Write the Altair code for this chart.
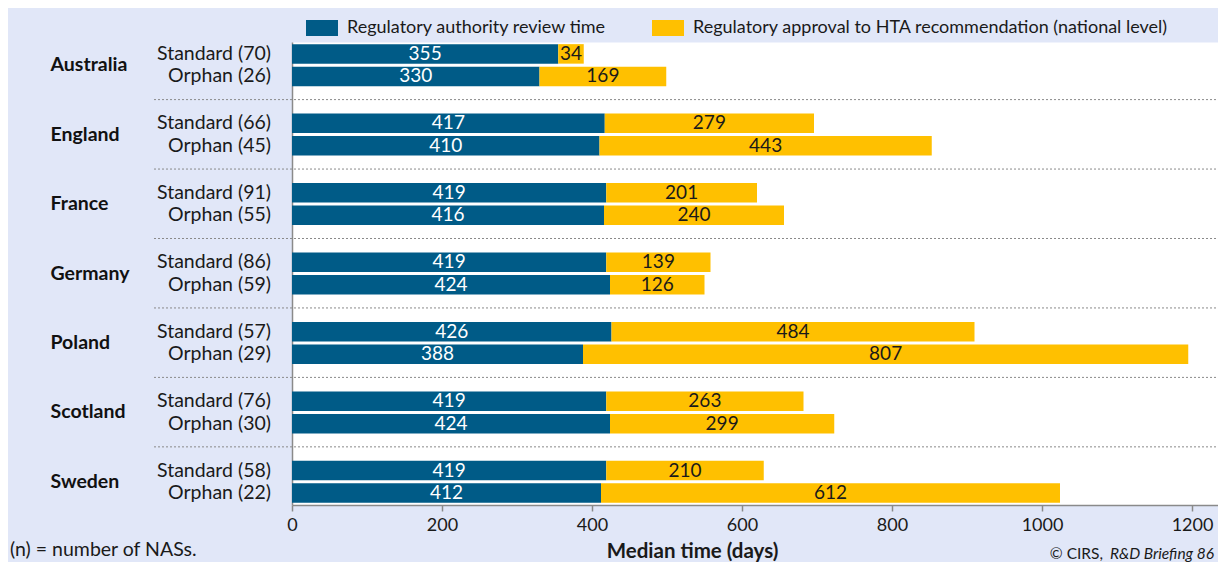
import altair as alt
import pandas as pd

countries = ["Australia", "England", "France", "Germany", "Poland", "Scotland", "Sweden"]
types = ["Standard", "Orphan"]
standard_n = [70, 66, 91, 86, 57, 76, 58]
orphan_n = [26, 45, 55, 59, 29, 30, 22]
standard_review = [355, 417, 419, 419, 426, 419, 419]
standard_hta = [34, 279, 201, 139, 484, 263, 210]
orphan_review = [330, 410, 416, 424, 388, 424, 412]
orphan_hta = [169, 443, 240, 126, 807, 299, 612]
series = ["Regulatory authority review time",
          "Regulatory approval to HTA recommendation (national level)"]
series_colors = ["#005B87", "#FFC000"]
x_ticks = [0, 200, 400, 600, 800, 1000, 1200]
x_title = "Median time (days)"
note_left = "(n) = number of NASs."
note_right_a = "© CIRS,"
note_right_b = "R&D Briefing 86"

FONT = "Lato"
TXT = "#1a1a1a"

rows = []
for i, c in enumerate(countries):
    for t, n, rv, ht in [("Standard", standard_n[i], standard_review[i], standard_hta[i]),
                         ("Orphan", orphan_n[i], orphan_review[i], orphan_hta[i])]:
        lab = f"{t} ({n})"
        rows.append(dict(country=c, type=t, label=lab, series=series[0],
                         start=0, end=rv, value=rv, first=1))
        rows.append(dict(country=c, type=t, label=lab, series=series[1],
                         start=rv, end=rv + ht, value=ht, first=0))
df = pd.DataFrame(rows)
sep_df = pd.DataFrame({"country": countries[1:]})

PLOT_W = 926
x_scale = alt.Scale(domain=[0, PLOT_W / 0.75], nice=False, zero=True)
y_scale = alt.Scale(domain=countries, paddingInner=0.3953, paddingOuter=0.031)
yo_scale = alt.Scale(domain=types, paddingInner=0.133, paddingOuter=0)

x_axis = alt.Axis(values=x_ticks, format="d", tickSize=6, tickColor="#8a8a8a", tickWidth=1.5,
                  domainColor="#8a8a8a", domainWidth=1.5, labelFontSize=18,
                  labelPadding=5, labelColor=TXT, grid=False, labelFlush=False,
                  title=x_title, titleFontSize=20.5, titleFontWeight="bold",
                  titleColor=TXT, titleX=400, titleY=46,
                  titleBaseline="middle", titleAlign="center")
y_axis = alt.Axis(title=None, ticks=False, domainColor="#8a8a8a", domainWidth=1.5,
                  labelAlign="left", labelPadding=242, labelFontSize=19.5,
                  labelFontWeight="bold", labelColor="#111111", grid=False)

base = alt.Chart(df)

bars = base.mark_bar().encode(
    x=alt.X("start:Q", scale=x_scale, axis=x_axis),
    x2="end:Q",
    y=alt.Y("country:N", scale=y_scale, axis=y_axis, sort=countries),
    yOffset=alt.YOffset("type:N", scale=yo_scale, sort=types),
    color=alt.Color("series:N", scale=alt.Scale(domain=series, range=series_colors),
                    legend=alt.Legend(orient="none", legendX=14, legendY=-30,
                                      direction="horizontal", title=None,
                                      symbolType="M-1,-0.5H1V0.5H-1Z", symbolSize=1024,
                                      symbolStrokeWidth=0, symbolOpacity=1,
                                      labelFontSize=18, labelColor=TXT, labelLimit=0,
                                      columnPadding=45, labelOffset=9, padding=0)),
)

values = base.transform_calculate(mid="(datum.start + datum.end) / 2").mark_text(
    fontSize=19, baseline="middle", align="center"
).encode(
    x=alt.X("mid:Q", scale=x_scale),
    y=alt.Y("country:N", sort=countries),
    yOffset=alt.YOffset("type:N", sort=types),
    text="value:Q",
    color=alt.when(alt.datum.first == 1).then(alt.value("white")).otherwise(alt.value(TXT)),
)

type_labels = base.transform_filter(alt.datum.first == 1).mark_text(
    fontSize=19.5, baseline="middle", align="right", dx=-21, color=TXT
).encode(
    x=alt.value(0),
    y=alt.Y("country:N", sort=countries),
    yOffset=alt.YOffset("type:N", sort=types),
    text="label:N",
)

seps = alt.Chart(sep_df).mark_rule(
    color="#8a8a8a", strokeDash=[2, 2], strokeWidth=1, yOffset=-14
).encode(
    y=alt.Y("country:N", sort=countries, bandPosition=0),
    x=alt.value(-138),
    x2=alt.value(PLOT_W),
)

note_l = alt.Chart(pd.DataFrame({"t": [note_left]})).mark_text(
    fontSize=19.5, align="left", baseline="middle", color=TXT
).encode(x=alt.value(-282), y=alt.value(508), text="t:N")

note_r1 = alt.Chart(pd.DataFrame({"t": [note_right_a]})).mark_text(
    fontSize=15.5, align="right", baseline="middle", color=TXT
).encode(x=alt.value(PLOT_W - 8 - 107), y=alt.value(512), text="t:N")

note_r2 = alt.Chart(pd.DataFrame({"t": [note_right_b]})).mark_text(
    fontSize=15.5, align="right", baseline="middle", color=TXT, fontStyle="italic"
).encode(x=alt.value(PLOT_W - 4), y=alt.value(512), text="t:N")

chart = alt.layer(seps, bars, values, type_labels, note_l, note_r1, note_r2).properties(
    width=PLOT_W, height=463,
    autosize=alt.AutoSizeParams(type="none"),
    padding={"left": 284, "top": 34, "right": 0, "bottom": 57},
).configure(
    background="#E1E7F8", font=FONT
).configure_view(fill="white", stroke="transparent")

chart.save("out.html", embed_options={"renderer": "svg", "actions": False})
